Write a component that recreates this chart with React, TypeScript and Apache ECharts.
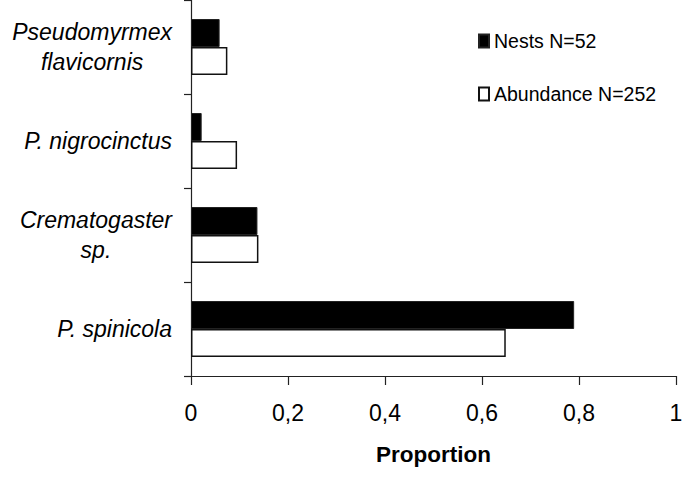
import React, { useEffect, useRef } from "react";
import * as echarts from "echarts";

const categories = ["P. spinicola", "Crematogaster\nsp.", "P. nigrocinctus", "Pseudomyrmex\nflavicornis"];
const nestsName = "Nests N=52";
const abundanceName = "Abundance N=252";
const nests = [0.79, 0.137, 0.022, 0.059];
const abundance = [0.649, 0.139, 0.095, 0.075];
const xTicks = { min: 0, max: 1, interval: 0.2 };
const xTitle = "Proportion";

const SANS = "'Liberation Sans', Arial, sans-serif";

export default function App() {
  const ref = useRef<HTMLDivElement>(null);
  useEffect(() => {
    if (!ref.current) return;
    const chart = echarts.init(ref.current, null, { renderer: "svg" });
    chart.setOption({
      animation: false,
      backgroundColor: "#fff",
      grid: { left: 191, right: 16, top: -6, bottom: 102, containLabel: false },
      legend: {
        orient: "vertical",
        left: 473,
        top: 26,
        itemWidth: 10,
        itemHeight: 13,
        itemGap: 33,
        icon: "rect",
        data: [nestsName, abundanceName],
        textStyle: { fontFamily: SANS, fontSize: 19.5, color: "#000" },
      },
      xAxis: {
        type: "value",
        min: xTicks.min,
        max: xTicks.max,
        interval: xTicks.interval,
        name: xTitle,
        nameLocation: "middle",
        nameGap: 67,
        nameTextStyle: { fontFamily: SANS, fontSize: 22.5, fontWeight: "bold", color: "#000" },
        axisLine: { show: true, lineStyle: { color: "#222", width: 1.2 } },
        axisTick: { show: true, length: 9, lineStyle: { color: "#222", width: 1.2 } },
        splitLine: { show: false },
        axisLabel: {
          margin: 25,
          fontFamily: SANS,
          fontSize: 23,
          color: "#000",
          formatter: (v: number) => String(Math.round(v * 10) / 10).replace(".", ","),
        },
      },
      yAxis: {
        type: "category",
        data: categories,
        axisLine: { show: true, lineStyle: { color: "#222", width: 1.2 } },
        axisTick: { show: true, length: 7, lineStyle: { color: "#222", width: 1.2 } },
        splitLine: { show: false },
        axisLabel: {
          margin: 19,
          align: "right",
          formatter: (v: string) => v.split("\n").map((l) => `{c|${l}}`).join("\n"),
          rich: {
            c: {
              align: "center",
              fontFamily: SANS,
              fontStyle: "italic",
              fontSize: 23,
              lineHeight: 30,
              color: "#000",
            },
          },
        },
      },
      series: [
        {
          name: nestsName,
          type: "bar",
          data: nests,
          barWidth: 28,
          barGap: "0%",
          itemStyle: { color: "#000", borderColor: "#222", borderWidth: 1 },
        },
        {
          name: abundanceName,
          type: "bar",
          data: abundance,
          barWidth: 28,
          barGap: "0%",
          itemStyle: { color: "#fff", borderColor: "#111", borderWidth: 1.5 },
        },
      ],
    });
    return () => chart.dispose();
  }, []);
  return (
    <div
      ref={ref}
      style={{ position: "fixed", left: 0, top: 0, width: 692, height: 478, background: "#fff" }}
    />
  );
}
